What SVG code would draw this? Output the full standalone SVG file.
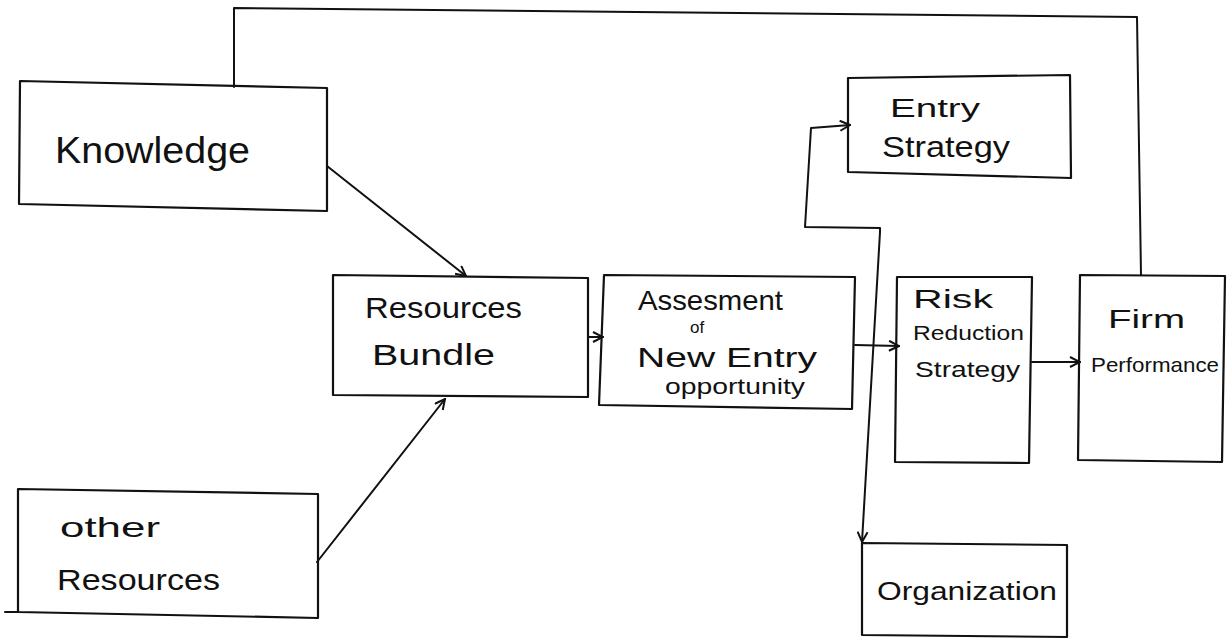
<svg xmlns="http://www.w3.org/2000/svg" width="1231" height="642" viewBox="0 0 1231 642">
<defs>
<style>
.box{fill:none;stroke:#111;stroke-width:2.2;stroke-linejoin:round}
.ln{fill:none;stroke:#111;stroke-width:2;stroke-linecap:round;stroke-linejoin:round}
.t{font-family:"Liberation Sans",Arial,sans-serif;fill:#111}
</style>
<marker id="ah" viewBox="0 0 12 12" refX="11" refY="6" markerWidth="12" markerHeight="12" markerUnits="userSpaceOnUse" orient="auto-start-reverse">
<path d="M1,1 L11,6 L1,11" fill="none" stroke="#111" stroke-width="2"/>
</marker>
</defs>
<rect width="1231" height="642" fill="#fff"/>
<g id="connectors">
<polyline class="ln" points="234,87 234,8 1137,17 1141,275"/>
<line class="ln" x1="327" y1="166" x2="466" y2="276" marker-end="url(#ah)"/>
<line class="ln" x1="317" y1="562" x2="445" y2="399" marker-end="url(#ah)"/>
<line class="ln" x1="588" y1="337" x2="603" y2="337" marker-end="url(#ah)"/>
<line class="ln" x1="855" y1="345" x2="899" y2="346" marker-end="url(#ah)"/>
<line class="ln" x1="1032" y1="362" x2="1080" y2="362" marker-end="url(#ah)"/>
<polyline class="ln" points="862,542 880,232 880,228 805,227 811,128 850,125" marker-start="url(#ah)" marker-end="url(#ah)"/>
</g>
<g id="knowledge">
<polygon class="box" points="20,81 327,88 327,211 19,204"/>
<text class="t" x="55" y="163" font-size="36" textLength="195" lengthAdjust="spacingAndGlyphs">Knowledge</text>
</g>
<g id="other-resources">
<polygon class="box" points="18,489 318,494 318,618 18,612"/>
<line class="ln" x1="5" y1="612" x2="18" y2="612"/>
<text class="t" x="60" y="537" font-size="28" textLength="100" lengthAdjust="spacingAndGlyphs">other</text>
<text class="t" x="57" y="590" font-size="30" textLength="163" lengthAdjust="spacingAndGlyphs">Resources</text>
</g>
<g id="resources-bundle">
<polygon class="box" points="333,275 588,278 588,397 333,395"/>
<text class="t" x="365" y="318" font-size="30" textLength="157" lengthAdjust="spacingAndGlyphs">Resources</text>
<text class="t" x="372" y="365" font-size="30" textLength="123" lengthAdjust="spacingAndGlyphs">Bundle</text>
</g>
<g id="assessment">
<polygon class="box" points="604,275 855,277 852,409 599,405"/>
<text class="t" x="638" y="310" font-size="28" textLength="145" lengthAdjust="spacingAndGlyphs">Assesment</text>
<text class="t" x="690" y="333" font-size="17">of</text>
<text class="t" x="637" y="367" font-size="27" textLength="180" lengthAdjust="spacingAndGlyphs">New   Entry</text>
<text class="t" x="665" y="394" font-size="22" textLength="140" lengthAdjust="spacingAndGlyphs">opportunity</text>
</g>
<g id="entry-strategy">
<polygon class="box" points="848,78 1070,75 1071,178 848,172"/>
<text class="t" x="890" y="117" font-size="26" textLength="90" lengthAdjust="spacingAndGlyphs">Entry</text>
<text class="t" x="882" y="157" font-size="30" textLength="128" lengthAdjust="spacingAndGlyphs">Strategy</text>
</g>
<g id="risk-reduction-strategy">
<polygon class="box" points="897,277 1032,277 1029,463 895,462"/>
<text class="t" x="913" y="308" font-size="26" textLength="80" lengthAdjust="spacingAndGlyphs">Risk</text>
<text class="t" x="913" y="340" font-size="21" textLength="111" lengthAdjust="spacingAndGlyphs">Reduction</text>
<text class="t" x="915" y="377" font-size="22" textLength="105" lengthAdjust="spacingAndGlyphs">Strategy</text>
</g>
<g id="firm-performance">
<polygon class="box" points="1080,275 1225,276 1222,462 1078,460"/>
<text class="t" x="1108" y="328" font-size="26" textLength="77" lengthAdjust="spacingAndGlyphs">Firm</text>
<text class="t" x="1091" y="372" font-size="21" textLength="128" lengthAdjust="spacingAndGlyphs">Performance</text>
</g>
<g id="organization">
<polygon class="box" points="862,543 1067,545 1067,637 862,635"/>
<text class="t" x="877" y="600" font-size="26" textLength="180" lengthAdjust="spacingAndGlyphs">Organization</text>
</g>
</svg>
